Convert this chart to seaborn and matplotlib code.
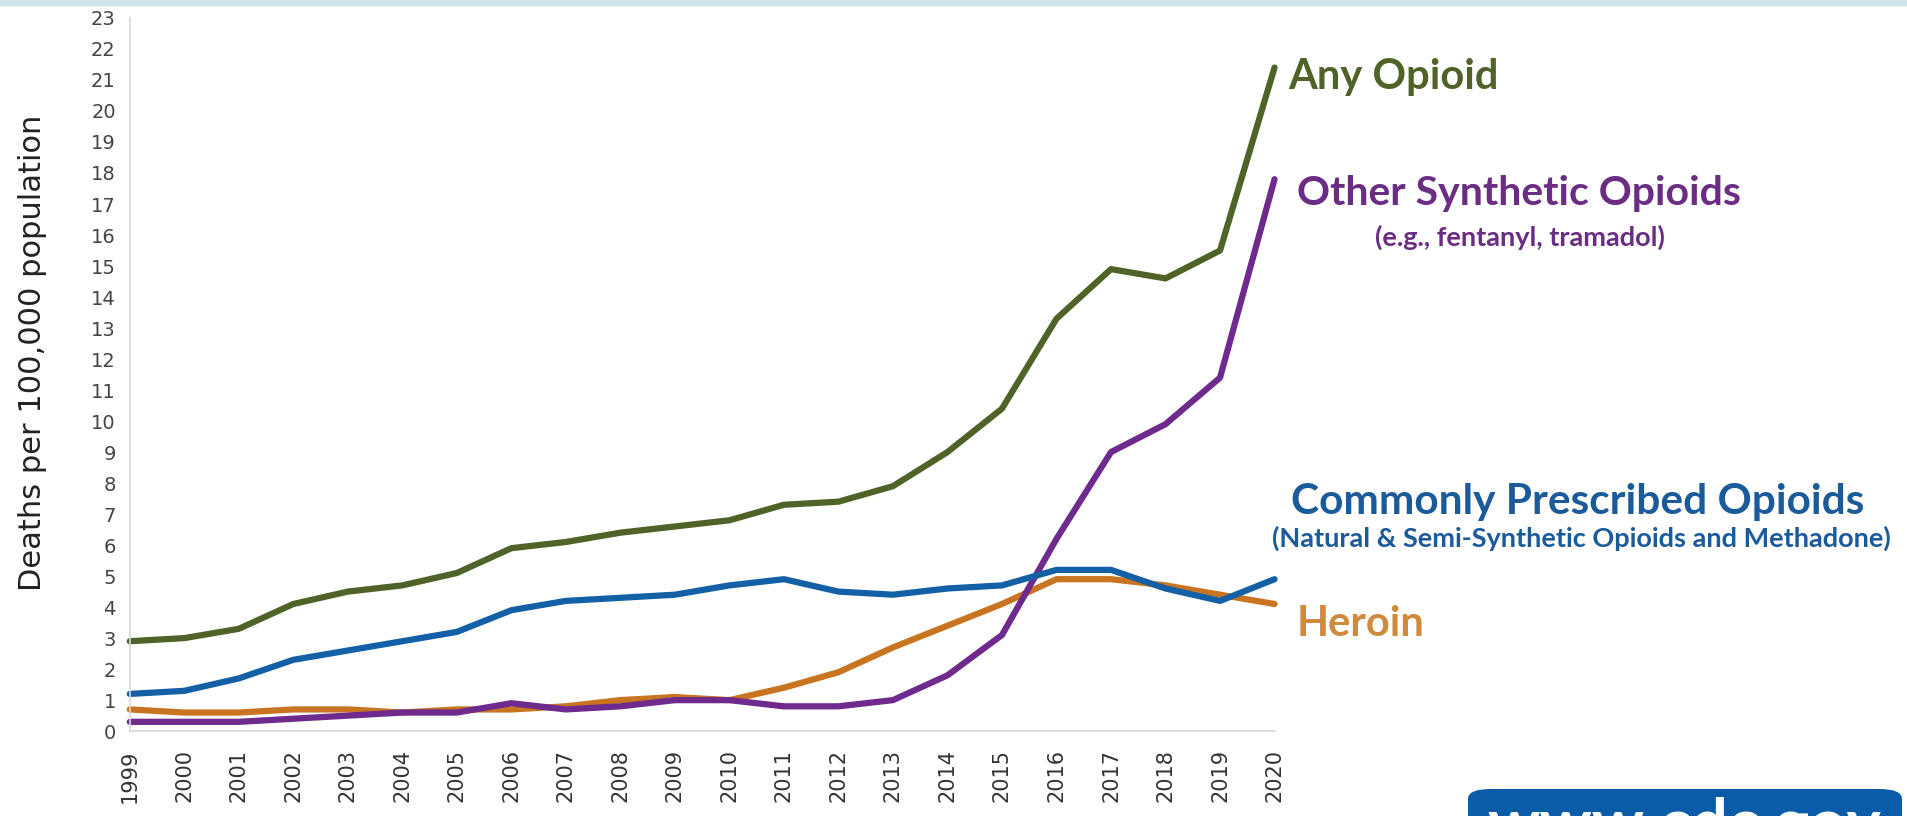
import pandas as pd
import matplotlib.pyplot as plt
import seaborn as sns
from matplotlib.patches import FancyBboxPatch

# 연도
years = list(range(1999, 2021))

# 시리즈 값 (per 100,000)
any_opioid = [2.9, 3.0, 3.3, 4.1, 4.5, 4.7, 5.1, 5.9, 6.1, 6.4, 6.6,
              6.8, 7.3, 7.4, 7.9, 9.0, 10.4, 13.3, 14.9, 14.6, 15.5, 21.4]
other_synthetic = [0.3, 0.3, 0.3, 0.4, 0.5, 0.6, 0.6, 0.9, 0.7, 0.8, 1.0,
                   1.0, 0.8, 0.8, 1.0, 1.8, 3.1, 6.2, 9.0, 9.9, 11.4, 17.8]
commonly_prescribed = [1.2, 1.3, 1.7, 2.3, 2.6, 2.9, 3.2, 3.9, 4.2, 4.3, 4.4,
                       4.7, 4.9, 4.5, 4.4, 4.6, 4.7, 5.2, 5.2, 4.6, 4.2, 4.9]
heroin = [0.7, 0.6, 0.6, 0.7, 0.7, 0.6, 0.7, 0.7, 0.8, 1.0, 1.1,
          1.0, 1.4, 1.9, 2.7, 3.4, 4.1, 4.9, 4.9, 4.7, 4.4, 4.1]

series_names = ['Heroin', 'Other Synthetic', 'Commonly Prescribed', 'Any Opioid']
series_vals = [heroin, other_synthetic, commonly_prescribed, any_opioid]
line_colors = {'Any Opioid': '#4F6228', 'Other Synthetic': '#6E2A8C',
               'Commonly Prescribed': '#1360A6', 'Heroin': '#C97420'}

df = pd.concat([pd.DataFrame({'year': years, 'rate': v, 'series': n})
                for n, v in zip(series_names, series_vals)], ignore_index=True)

sns.set_style('white')
plt.rcParams['font.family'] = ['DejaVu Sans']

fig = plt.figure(figsize=(19.08, 8.16), dpi=100)
ax = fig.add_axes([0.068, 0.104, 0.6, 0.874])

sns.lineplot(data=df, x='year', y='rate', hue='series', palette=line_colors,
             hue_order=series_names, linewidth=4.5, legend=False, ax=ax)
for ln in ax.lines:
    ln.set_clip_on(False)
    ln.set_solid_joinstyle('round')

ax.set_xlim(1999, 2020)
ax.set_ylim(0, 23)
ax.set_xticks(years)
ax.set_xticklabels([str(y) for y in years], rotation=90, fontsize=15, color='#333333')
ax.set_yticks(range(0, 24))
ax.set_yticklabels([str(i) for i in range(0, 24)], fontsize=14, color='#444444')
ax.tick_params(axis='x', length=5, color='#d0d0d0', pad=8)
ax.tick_params(axis='y', length=0, pad=10)
ax.set_xlabel('')
ax.set_ylabel('Deaths per 100,000 population', fontsize=22, color='#222222')
ax.yaxis.set_label_coords(-0.072, 0.53)
for s in ['top', 'right']:
    ax.spines[s].set_visible(False)
for s in ['left', 'bottom']:
    ax.spines[s].set_color('#d8d8d8')
    ax.spines[s].set_linewidth(1.2)

# 라벨 텍스트
lab_font = ['Lato', 'DejaVu Sans']
fig.text(1288 / 1908, 1 - 77 / 816, 'Any Opioid', color='#4F6228', fontsize=30,
         fontweight='bold', family=lab_font, va='center', ha='left')
fig.text(1297 / 1908, 1 - 193 / 816, 'Other Synthetic Opioids', color='#6B2C84', fontsize=29.5,
         fontweight='bold', family=lab_font, va='center', ha='left')
fig.text(1520 / 1908, 1 - 237 / 816, '(e.g., fentanyl, tramadol)', color='#6B2C84', fontsize=19.5,
         fontweight='bold', family=lab_font, va='center', ha='center')
fig.text(1291 / 1908, 1 - 502 / 816, 'Commonly Prescribed Opioids', color='#1C5B99', fontsize=30.5,
         fontweight='bold', family=lab_font, va='center', ha='left')
fig.text(1581 / 1908, 1 - 538 / 816, '(Natural & Semi-Synthetic Opioids and Methadone)',
         color='#1C5B99', fontsize=19.5, fontweight='bold', family=lab_font, va='center', ha='center')
fig.text(1297 / 1908, 1 - 624 / 816, 'Heroin', color='#D08A3C', fontsize=30,
         fontweight='bold', family=lab_font, va='center', ha='left')

# 상단 띠
fig.patches.append(plt.Rectangle((0, 1 - 5 / 816), 1, 5 / 816, transform=fig.transFigure,
                                 color='#cfe6ec', zorder=0))

# www.cdc.gov 박스
box = FancyBboxPatch((1468 / 1908, -0.05), 434 / 1908, 0.05 + 27 / 816,
                     boxstyle='round,pad=0,rounding_size=0.012', transform=fig.transFigure,
                     facecolor='#0A5CA8', edgecolor='none', clip_on=False)
fig.patches.append(box)
fig.text(1684 / 1908, -29 / 816, 'www.cdc.gov', color='white', fontsize=47,
         fontweight='bold', family=lab_font, ha='center', va='baseline')

fig.savefig('out.png', dpi=100)
